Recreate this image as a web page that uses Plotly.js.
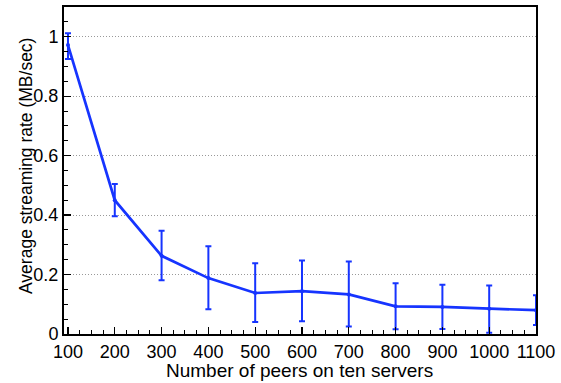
<!DOCTYPE html>
<html><head><meta charset="utf-8">
<script src="https://cdn.plot.ly/plotly-3.0.1.min.js"></script>
<style>html,body{margin:0;padding:0;background:#fff}#c{width:561px;height:383px}</style>
</head><body><div id="c"></div>
<script>
const peers = [100, 200, 300, 400, 500, 600, 700, 800, 900, 1000, 1100];
const rate = [0.972, 0.450, 0.263, 0.188, 0.138, 0.144, 0.133, 0.093, 0.091, 0.085, 0.080];
const errPlus = [0.040, 0.055, 0.084, 0.107, 0.100, 0.103, 0.111, 0.078, 0.075, 0.078, 0.050];
const errMinus = [0.047, 0.054, 0.082, 0.105, 0.098, 0.101, 0.108, 0.077, 0.074, 0.081, 0.050];
const xTicks = [100, 200, 300, 400, 500, 600, 700, 800, 900, 1000, 1100];
const yTicks = [0, 0.2, 0.4, 0.6, 0.8, 1];
const yTickText = ['0', '0.2', '0.4', '0.6', '0.8', '1'];
const xTitle = 'Number of peers on ten servers';
const yTitle = 'Average streaming rate (MB/sec)';

const blue = 'rgb(22,52,255)';
const trace = {
  x: peers, y: rate, type: 'scatter', mode: 'lines+markers',
  line: {color: blue, width: 2.7},
  marker: {color: blue, size: 4},
  error_y: {type: 'data', symmetric: false, array: errPlus, arrayminus: errMinus,
            color: blue, thickness: 2, width: 3},
  cliponaxis: false
};
const fontFam = 'Liberation Sans, Arial, Helvetica, sans-serif';
const L = 64, R = 25, T = 7, B = 49;
const pw = 561 - L - R, ph = 383 - T - B;
const layout = {
  width: 561, height: 383,
  margin: {l: L, r: R, t: T, b: B},
  paper_bgcolor: '#fff', plot_bgcolor: '#fff',
  showlegend: false,
  font: {family: fontFam, color: '#000'},
  xaxis: {
    range: [91.5, 1100], tickvals: xTicks, ticktext: xTicks.map(String),
    ticks: 'inside', ticklen: 7, tickwidth: 1.3, tickcolor: '#000',
    minor: {dtick: 25, tick0: 100, ticks: 'inside', ticklen: 4, tickcolor: '#000', tickwidth: 1, showgrid: false},
    showline: true, linecolor: '#000', linewidth: 2, mirror: true,
    showgrid: false, zeroline: false,
    tickfont: {size: 18, family: fontFam}
  },
  yaxis: {
    range: [0, 1.1], tickvals: yTicks, ticktext: yTickText,
    ticks: 'inside', ticklen: 7, tickwidth: 1.3, tickcolor: '#000',
    minor: {dtick: 0.05, tick0: 0, ticks: 'inside', ticklen: 4, tickcolor: '#000', tickwidth: 1, showgrid: false},
    showline: true, linecolor: '#000', linewidth: 2, mirror: true,
    showgrid: true, gridcolor: '#999', griddash: '1px,2px', gridwidth: 1,
    zeroline: false,
    tickfont: {size: 18, family: fontFam}
  },
  annotations: [
    {text: xTitle, xref: 'paper', yref: 'paper', x: (299 - L) / pw, y: -(370 - (T + ph)) / ph,
     xanchor: 'center', yanchor: 'middle', showarrow: false, font: {size: 19, family: fontFam, color: '#000'}},
    {text: yTitle, xref: 'paper', yref: 'paper', x: (26 - L) / pw, y: (ph + T - 166) / ph,
     xanchor: 'center', yanchor: 'middle', textangle: -90, showarrow: false, font: {size: 17.5, family: fontFam, color: '#000'}}
  ]
};
Plotly.newPlot('c', [trace], layout, {displayModeBar: false, staticPlot: true});
</script>
</body></html>
